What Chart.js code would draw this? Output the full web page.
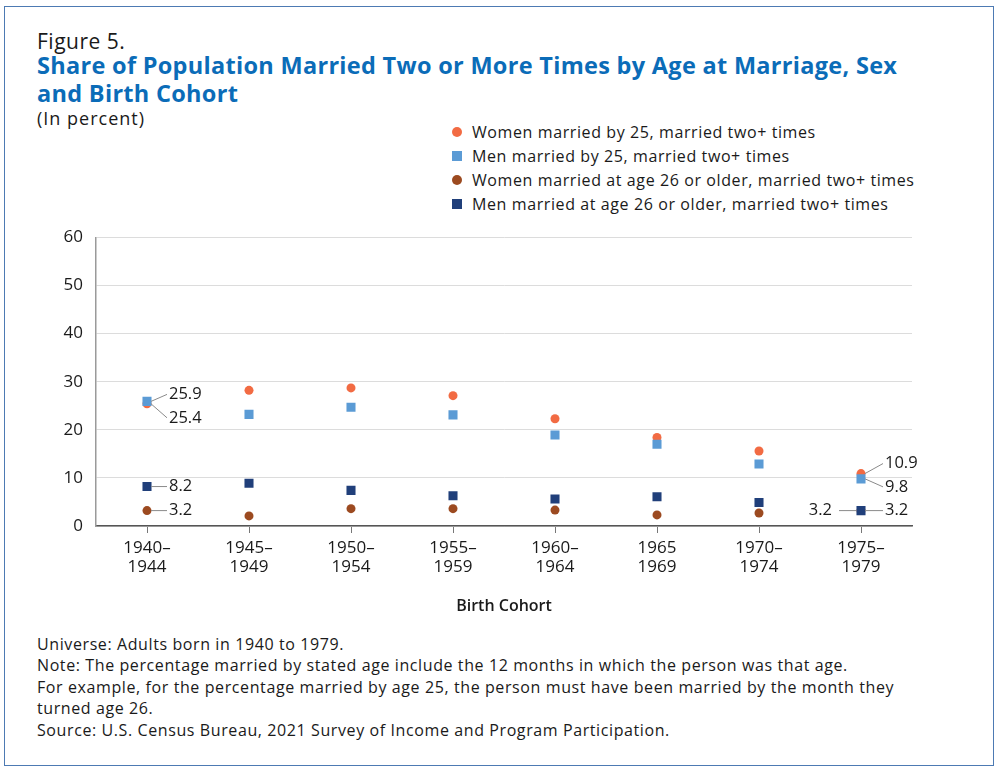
<!DOCTYPE html>
<html>
<head>
<meta charset="utf-8">
<script src="https://cdn.jsdelivr.net/npm/chart.js@4.4.1/dist/chart.umd.min.js"></script>
<style>
  html, body { margin: 0; padding: 0; background: #fff; }
  body { width: 1000px; height: 774px; position: relative; overflow: hidden;
         font-family: "Open Sans", "Noto Sans", sans-serif; color: #1a1a1a; }
  #frame { position: absolute; left: 4px; top: 6px; width: 990px; height: 760px;
           border: 1.5px solid #4d7ab3; box-sizing: border-box; }
  .txt { position: absolute; left: 37px; white-space: nowrap; }
  #fig { top: 27px; font-size: 21px; letter-spacing: 0.5px; }
  #title { top: 51px; font-size: 23.5px; letter-spacing: 0.3px; font-weight: 700; color: #0b6cb8; line-height: 28px; }
  #unit { top: 106px; font-size: 18px; letter-spacing: 1px; }
  #legend { position: absolute; left: 448px; top: 120px; font-size: 16px; letter-spacing: 0.6px; }
  #legend div { height: 24px; line-height: 24px; position: relative; padding-left: 24px; }
  #legend span { position: absolute; left: 4px; top: 7px; width: 10px; height: 10px; }
  #chartBox { position: absolute; left: 0; top: 215px; width: 1000px; height: 405px; }
  #notes { position: absolute; left: 37px; top: 634px; font-size: 16px; letter-spacing: 0.6px; line-height: 21px; }
</style>
</head>
<body>
<div id="frame"></div>
<div class="txt" id="fig">Figure 5.</div>
<div class="txt" id="title">Share of Population Married Two or More Times by Age at Marriage, Sex<br>and Birth Cohort</div>
<div class="txt" id="unit">(In percent)</div>
<div id="legend"></div>
<div id="chartBox"><canvas id="chart"></canvas></div>
<div id="notes">
  <div>Universe: Adults born in 1940 to 1979.</div>
  <div>Note: The percentage married by stated age include the 12 months in which the person was that age.</div>
  <div style="margin-top:1px">For example, for the percentage married by age 25, the person must have been married by the month they</div>
  <div>turned age 26.</div>
  <div style="margin-top:1px">Source: U.S. Census Bureau, 2021 Survey of Income and Program Participation.</div>
</div>

<script>
const cohorts = [
  ['1940–', '1944'], ['1945–', '1949'], ['1950–', '1954'], ['1955–', '1959'],
  ['1960–', '1964'], ['1965', '1969'], ['1970–', '1974'], ['1975–', '1979']
];
const seriesNames = [
  'Women married by 25, married two+ times',
  'Men married by 25, married two+ times',
  'Women married at age 26 or older, married two+ times',
  'Men married at age 26 or older, married two+ times'
];
const womenBy25 = [25.4, 28.2, 28.7, 27.1, 22.3, 18.4, 15.6, 10.9];
const menBy25 = [25.9, 23.2, 24.7, 23.1, 18.9, 17.0, 12.9, 9.8];
const women26Plus = [3.2, 2.1, 3.6, 3.6, 3.3, 2.3, 2.7, 3.2];
const men26Plus = [8.2, 8.9, 7.4, 6.3, 5.6, 6.1, 4.9, 3.2];
const yTicks = [0, 10, 20, 30, 40, 50, 60];

const colors = ['#f26b43', '#5b9bd5', '#9c4a20', '#203f7a'];
const shapes = ['circle', 'rect', 'circle', 'rect'];
const values = [womenBy25, menBy25, women26Plus, men26Plus];

// legend (html)
const legendEl = document.getElementById('legend');
seriesNames.forEach((name, i) => {
  const row = document.createElement('div');
  const sw = document.createElement('span');
  sw.style.background = colors[i];
  if (shapes[i] === 'circle') sw.style.borderRadius = '50%';
  row.appendChild(sw);
  row.appendChild(document.createTextNode(name));
  legendEl.appendChild(row);
});

// value labels with leader lines on first / last cohort
// [dataset, index, dx, dy, side]
const callouts = [
  [1, 0, 20, -7, 'r'],
  [0, 0, 20, 14, 'r'],
  [3, 0, 20, 0, 'r'],
  [2, 0, 20, 0, 'r'],
  [0, 7, 22, -10, 'r'],
  [1, 7, 22, 8, 'r'],
  [2, 7, 22, 0, 'r'],
  [3, 7, -22, 0, 'l']
];

const calloutPlugin = {
  id: 'callouts',
  afterDatasetsDraw(chart) {
    const ctx = chart.ctx;
    ctx.save();
    ctx.font = '16.5px "Open Sans", sans-serif';
    ctx.fillStyle = '#1a1a1a';
    ctx.strokeStyle = '#8a8a8a';
    ctx.lineWidth = 1;
    ctx.textBaseline = 'middle';
    callouts.forEach(([ds, idx, dx, dy, side]) => {
      const pt = chart.getDatasetMeta(ds).data[idx];
      const x0 = pt.x + (side === 'r' ? 4 : -5);
      const y0 = pt.y;
      const x1 = pt.x + dx, y1 = pt.y + dy;
      ctx.beginPath();
      ctx.moveTo(x0, y0);
      ctx.lineTo(x1, y1);
      ctx.stroke();
      const label = values[ds][idx].toFixed(1);
      ctx.textAlign = side === 'r' ? 'left' : 'right';
      ctx.fillText(label, x1 + (side === 'r' ? 2 : -7), y1);
    });
    ctx.restore();
  }
};

const draworder = [4, 3, 2, 1];
const tickFont = { size: 17, family: '"Open Sans", sans-serif', lineHeight: 1.1 };

new Chart(document.getElementById('chart'), {
  type: 'line',
  plugins: [calloutPlugin],
  data: {
    labels: cohorts,
    datasets: seriesNames.map((name, i) => ({
      label: name,
      data: values[i],
      showLine: false,
      order: draworder[i],
      pointStyle: shapes[i],
      pointRadius: shapes[i] === 'circle' ? 4.5 : 6.4,
      pointBackgroundColor: colors[i],
      pointBorderColor: colors[i],
      pointBorderWidth: 0
    }))
  },
  options: {
    responsive: true,
    maintainAspectRatio: false,
    animation: false,
    layout: { padding: { left: 0, right: 88, top: 20, bottom: 0 } },
    plugins: { legend: { display: false }, tooltip: { enabled: false } },
    scales: {
      x: {
        offset: true,
        grid: { display: true, drawOnChartArea: false, drawTicks: true, tickLength: 7, color: '#777', offset: false },
        border: { display: true, color: '#555', width: 1.5 },
        ticks: { font: tickFont, color: '#1a1a1a', padding: 6, maxRotation: 0, autoSkip: false },
        title: { display: true, text: 'Birth Cohort', font: { size: 16, weight: '600', family: '"Open Sans", sans-serif' }, color: '#1a1a1a', padding: { top: 14 } },
        afterFit(scale) { scale.height = 94; }
      },
      y: {
        min: 0, max: 60,
        afterBuildTicks(scale) { scale.ticks = yTicks.map(v => ({ value: v })); },
        grid: { color: '#dcdcdc', drawTicks: false },
        border: { display: true, color: '#9a9a9a', width: 1.5 },
        ticks: { font: tickFont, color: '#1a1a1a', padding: 13 },
        afterFit(scale) { scale.width = 96; }
      }
    }
  }
});
</script>
</body>
</html>
